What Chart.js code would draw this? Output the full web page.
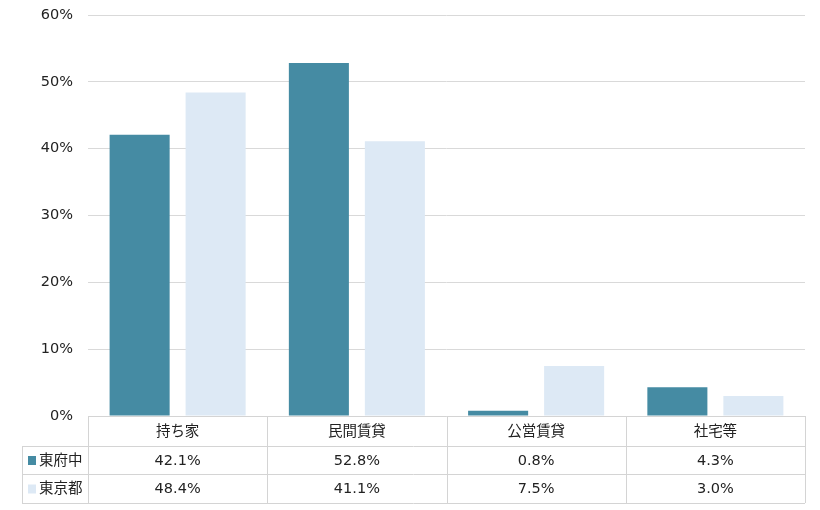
<!DOCTYPE html>
<html><head><meta charset="utf-8">
<script src="https://cdn.jsdelivr.net/npm/chart.js@4/dist/chart.umd.min.js"></script>
<style>html,body{margin:0;padding:0;background:#fff}#wrap{width:820px;height:510px}</style>
</head><body><div id="wrap"><canvas id="c" width="820" height="510"></canvas></div>
<script>
const categories = ['持ち家', '民間賃貸', '公営賃貸', '社宅等'];
const seriesNames = ['東府中', '東京都'];
const fuchuValues = [42.1, 52.8, 0.8, 4.3];
const tokyoValues = [48.4, 41.1, 7.5, 3.0];
const yTicks = [0, 10, 20, 30, 40, 50, 60];
const colors = ['#458BA3', '#DDE9F5'];
const FONT = '"DejaVu Sans", "Noto Sans CJK JP", sans-serif';

const tablePlugin = {
  id: 'dataTable',
  afterDraw(chart) {
    const ctx = chart.ctx;
    const x = chart.scales.x;
    const area = chart.chartArea;
    const top = area.bottom;
    const rowH = [30, 28, 29];
    const ys = [top, top + rowH[0], top + rowH[0] + rowH[1], top + rowH[0] + rowH[1] + rowH[2]];
    const leftX = 22;
    const n = categories.length;
    const step = (area.right - area.left) / n;
    const bounds = [];
    for (let i = 0; i <= n; i++) bounds.push(area.left + step * i);
    ctx.save();
    ctx.strokeStyle = '#d4d4d4';
    ctx.lineWidth = 1;
    ctx.beginPath();
    ctx.moveTo(area.left, Math.round(ys[0]) + 0.5); ctx.lineTo(area.right, Math.round(ys[0]) + 0.5);
    for (let r = 1; r <= 3; r++) { ctx.moveTo(leftX, Math.round(ys[r]) + 0.5); ctx.lineTo(area.right, Math.round(ys[r]) + 0.5); }
    bounds.forEach(b => { ctx.moveTo(Math.round(b) + 0.5, ys[0]); ctx.lineTo(Math.round(b) + 0.5, ys[3]); });
    ctx.moveTo(leftX + 0.5, ys[1]); ctx.lineTo(leftX + 0.5, ys[3]);
    ctx.stroke();
    ctx.fillStyle = '#222';
    ctx.font = '14.5px ' + FONT;
    ctx.textAlign = 'center';
    ctx.textBaseline = 'middle';
    const rows = [fuchuValues, tokyoValues];
    categories.forEach((c, i) => {
      const cx = x.getPixelForValue(i);
      ctx.fillText(c, cx, (ys[0] + ys[1]) / 2 + 1);
      rows.forEach((vals, r) => {
        ctx.fillText(vals[i].toFixed(1) + '%', cx, (ys[r + 1] + ys[r + 2]) / 2 + 1);
      });
    });
    ctx.textAlign = 'left';
    seriesNames.forEach((s, r) => {
      const cy = (ys[r + 1] + ys[r + 2]) / 2;
      ctx.fillStyle = colors[r];
      ctx.fillRect(28, cy - 4, 8, 9);
      ctx.fillStyle = '#222';
      ctx.fillText(s, 39, cy + 1);
    });
    ctx.restore();
  }
};

new Chart(document.getElementById('c'), {
  type: 'bar',
  data: {
    labels: categories,
    datasets: [
      { label: seriesNames[0], data: fuchuValues, backgroundColor: colors[0], barPercentage: 0.79, categoryPercentage: 0.848 },
      { label: seriesNames[1], data: tokyoValues, backgroundColor: colors[1], barPercentage: 0.79, categoryPercentage: 0.848 }
    ]
  },
  options: {
    responsive: false,
    animation: false,
    layout: { padding: { top: 15, right: 15, bottom: 0, left: 0 } },
    plugins: { legend: { display: false }, tooltip: { enabled: false } },
    scales: {
      x: {
        ticks: { display: false },
        grid: { display: false },
        border: { display: false },
        afterFit(s) { s.height = 94; s.paddingLeft = 0; s.paddingRight = 0; }
      },
      y: {
        min: 0, max: 60,
        afterBuildTicks(s) { s.ticks = yTicks.map(v => ({ value: v })); },
        ticks: { color: '#222', font: { family: FONT, size: 14.5 }, padding: 15, callback: v => v + '%' },
        grid: { color: '#d9d9d9', drawTicks: false },
        border: { display: false },
        afterFit(s) { s.width = 88; s.paddingTop = 0; s.paddingBottom = 0; }
      }
    }
  },
  plugins: [tablePlugin]
});
</script></body></html>
